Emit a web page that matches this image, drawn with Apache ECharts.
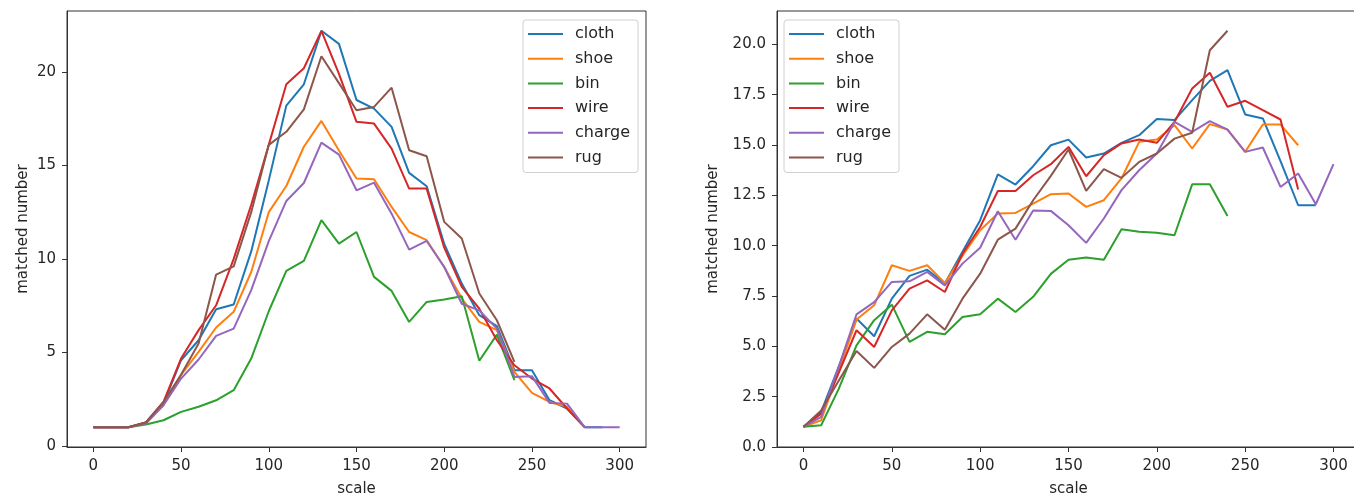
<!DOCTYPE html>
<html>
<head>
<meta charset="utf-8">
<script src="https://cdn.jsdelivr.net/npm/echarts@6/dist/echarts.min.js"></script>
<style>
html,body{margin:0;padding:0;background:#fff;}
#chart{width:1354px;height:494px;}
</style>
</head>
<body>
<div id="chart"></div>
<script>
// x positions (scale)
const scale = [0,10,20,30,40,50,60,70,80,90,100,110,120,130,140,150,160,170,180,190,200,210,220,230,240,250,260,270,280,290,300];
const seriesNames = ['cloth','shoe','bin','wire','charge','rug'];
const xTicks = [0,50,100,150,200,250,300];
const leftYTicks = [0,5,10,15,20];
const rightYTicks = [0,2.5,5,7.5,10,12.5,15,17.5,20];

// Left chart values
const leftCloth  = [1,1,1,1.25,2.26,4.58,5.65,7.31,7.56,10.4,14.2,18.2,19.34,22.2,21.5,18.5,18.04,17.06,14.6,13.89,10.8,8.68,6.99,6.4,4.05,4.05,2.44,2.0,1.0,1.0];
const leftShoe   = [1,1,1,1.25,2.2,3.8,5.03,6.33,7.17,9.3,12.5,13.9,16.0,17.38,15.8,14.3,14.26,12.78,11.44,11.0,9.57,7.88,6.63,6.19,3.96,2.83,2.35,2.09,1.0];
const leftBin    = [1,1,1,1.14,1.37,1.82,2.09,2.44,2.98,4.67,7.2,9.36,9.89,12.07,10.82,11.44,9.04,8.29,6.63,7.7,7.83,8.0,4.55,5.95,3.51];
const leftWire   = [1,1,1,1.25,2.35,4.67,6.19,7.52,10.0,12.9,16.1,19.34,20.2,22.2,19.9,17.33,17.24,15.9,13.76,13.76,10.6,8.5,7.34,5.65,4.31,3.6,3.07,2.0,1.0];
const leftCharge = [1,1,1,1.2,2.17,3.6,4.62,5.88,6.27,8.33,10.95,13.1,14.06,16.22,15.58,13.67,14.08,12.42,10.5,10.96,9.57,7.6,7.25,6.27,3.69,3.73,2.3,2.26,1.0,1.0,1.0];
const leftRug    = [1,1,1,1.25,2.35,3.8,5.47,9.16,9.6,12.5,16.1,16.8,18.0,20.84,19.4,17.95,18.13,19.16,15.81,15.49,11.98,11.09,8.15,6.72,4.49];

// Right chart values
const rightCloth  = [1,1.74,4.0,6.38,5.5,7.37,8.5,8.81,8.12,9.7,11.27,13.54,13.04,13.95,14.99,15.27,14.38,14.58,15.11,15.49,16.29,16.24,17.23,18.19,18.72,16.52,16.32,14.2,12.01,12.01];
const rightShoe   = [1,1.33,3.8,6.33,7.04,9.03,8.75,9.03,8.15,9.5,10.77,11.6,11.63,12.09,12.56,12.59,11.93,12.26,13.34,15.16,15.28,15.99,14.83,16.04,15.77,14.66,16.02,16.02,14.99];
const rightBin    = [1,1.08,2.9,5.05,6.3,7.07,5.22,5.72,5.6,6.46,6.59,7.37,6.71,7.46,8.6,9.3,9.41,9.3,10.82,10.69,10.64,10.52,13.05,13.05,11.48];
const rightWire   = [1,1.66,3.7,5.8,4.97,6.79,7.87,8.28,7.7,9.6,10.93,12.72,12.72,13.5,14.05,14.91,13.45,14.5,15.08,15.28,15.11,16.15,17.81,18.59,16.9,17.2,16.73,16.27,12.79];
const rightCharge = [1,1.5,4.0,6.59,7.2,8.2,8.23,8.7,8.03,9.11,9.9,11.71,10.3,11.75,11.73,11.02,10.14,11.35,12.76,13.75,14.58,16.15,15.66,16.19,15.77,14.66,14.88,12.92,13.59,12.06,14.05];
const rightRug    = [1,1.82,3.3,4.77,3.93,4.97,5.63,6.59,5.83,7.37,8.61,10.3,10.85,12.26,13.47,14.78,12.72,13.8,13.37,14.16,14.58,15.32,15.61,19.71,20.68];

const colors = ['#1f77b4','#ff7f0e','#2ca02c','#d62728','#9467bd','#8c564b'];
const leftData = [leftCloth,leftShoe,leftBin,leftWire,leftCharge,leftRug];
const rightData = [rightCloth,rightShoe,rightBin,rightWire,rightCharge,rightRug];

const FONT = 'DejaVu Sans';
const TXT = '#262626';
const FS = 15;

function pairs(arr){ return arr.map((v,i)=>[scale[i], v]); }

function xAxis(gi){
  return {
    type:'value', gridIndex:gi, min:-15, max:315,
    name:'scale', nameLocation:'middle', nameGap:35,
    nameTextStyle:{fontFamily:FONT, fontSize:FS, color:TXT},
    axisLine:{show:true, onZero:false, lineStyle:{color:'#333', width:1}},
    axisTick:{show:true, length:5, customValues:xTicks, lineStyle:{color:'#333'}},
    axisLabel:{customValues:xTicks, margin:12, fontFamily:FONT, fontSize:FS, color:TXT},
    splitLine:{show:false}
  };
}
function yAxis(gi, min, max, ticks, fmt, gap){
  return {
    type:'value', gridIndex:gi, min:min, max:max,
    name:'matched number', nameLocation:'middle', nameGap:gap, nameRotate:90,
    nameTextStyle:{fontFamily:FONT, fontSize:FS, color:TXT},
    axisLine:{show:true, onZero:false, lineStyle:{color:'#333', width:1}},
    axisTick:{show:true, length:5, customValues:ticks, lineStyle:{color:'#333'}},
    axisLabel:{customValues:ticks, margin:11, fontFamily:FONT, fontSize:FS, color:TXT, formatter:fmt},
    splitLine:{show:false}
  };
}
function legend(pos){
  return Object.assign({
    orient:'vertical', data:seriesNames, icon:'rect', itemWidth:35, itemHeight:2,
    itemGap:6.7, padding:[5,8,6,5],
    backgroundColor:'rgba(255,255,255,0.8)', borderColor:'#d0d0d0', borderWidth:1, borderRadius:3,
    textStyle:{fontFamily:FONT, fontSize:16, color:TXT, lineHeight:18, padding:[0,0,0,7]},
    selectedMode:false
  }, pos);
}

const series = [];
seriesNames.forEach((n,i)=>{
  series.push({name:n, type:'line', xAxisIndex:0, yAxisIndex:0, data:pairs(leftData[i]),
    symbol:'none', lineStyle:{width:2, color:colors[i]}, itemStyle:{color:colors[i]}});
});
seriesNames.forEach((n,i)=>{
  series.push({name:n, type:'line', xAxisIndex:1, yAxisIndex:1, data:pairs(rightData[i]),
    symbol:'none', lineStyle:{width:2, color:colors[i]}, itemStyle:{color:colors[i]}});
});

const chart = echarts.init(document.getElementById('chart'), null, {renderer:'canvas'});
chart.setOption({
  animation:false,
  backgroundColor:'#fff',
  grid:[
    {left:67, top:11, width:579, height:436, outerBoundsMode:'none', containLabel:false, show:true, borderColor:'#333', borderWidth:1, backgroundColor:'transparent'},
    {left:777, top:11, width:583, height:436, outerBoundsMode:'none', containLabel:false, show:true, borderColor:'#333', borderWidth:1, backgroundColor:'transparent'}
  ],
  xAxis:[xAxis(0), xAxis(1)],
  yAxis:[
    yAxis(0, -0.06, 23.26, leftYTicks, v=>String(Math.round(v)), 36),
    yAxis(1, 0, 21.66, rightYTicks, v=>v.toFixed(1), 56)
  ],
  legend:[legend({left:523, top:20}), legend({left:784, top:20})],
  series:series
});
</script>
</body>
</html>
